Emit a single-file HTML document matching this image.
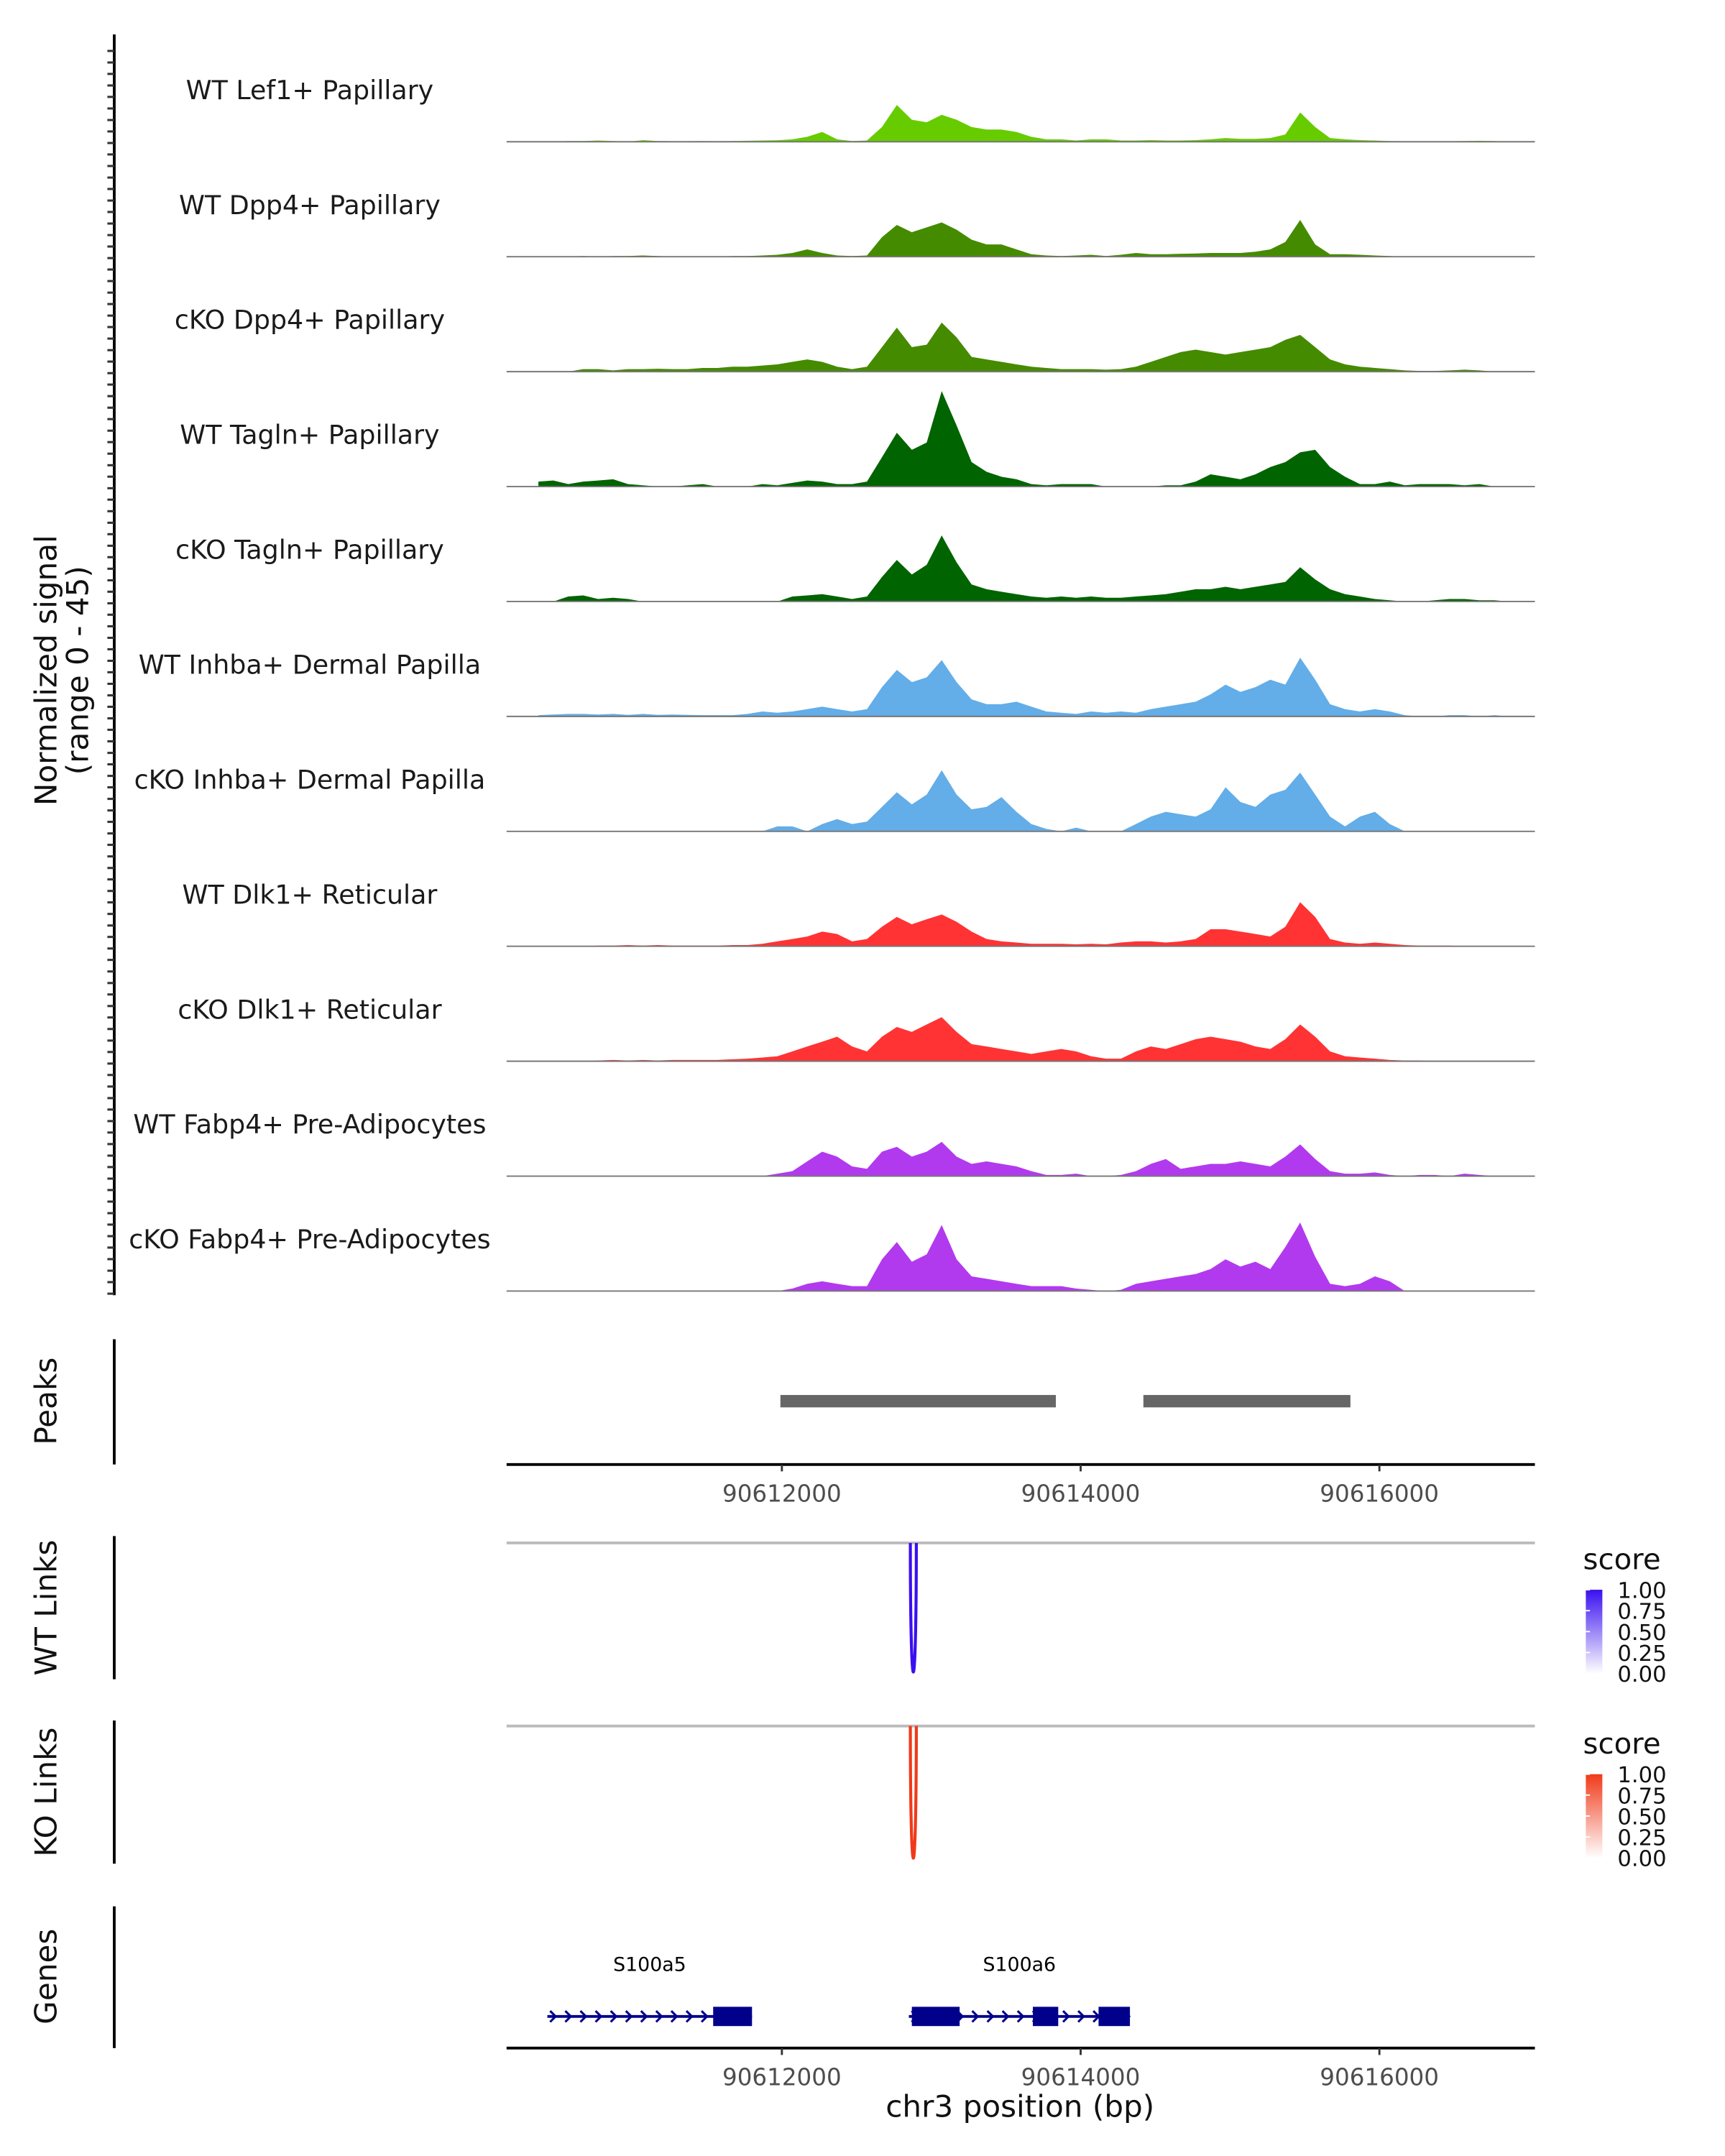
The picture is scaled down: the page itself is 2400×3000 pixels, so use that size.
<!DOCTYPE html>
<html><head><meta charset="utf-8"><style>
html,body{margin:0;padding:0;background:#fff}
svg{display:block}
text{font-family:"DejaVu Sans","Liberation Sans",sans-serif}
</style></head><body>
<svg id="chart" width="2400" height="3000" viewBox="0 0 1253.1 1566.4" preserveAspectRatio="none" xmlns="http://www.w3.org/2000/svg">
<defs>
<linearGradient id="gBlue" x1="0" y1="1" x2="0" y2="0"><stop offset="0" stop-color="#ffffff"/><stop offset="1" stop-color="#3a10f0"/></linearGradient>
<linearGradient id="gRed" x1="0" y1="1" x2="0" y2="0"><stop offset="0" stop-color="#ffffff"/><stop offset="1" stop-color="#f03a1a"/></linearGradient>
</defs>
<g id="tracks"></g>
<line x1="83" y1="25" x2="83" y2="941" stroke="#000" stroke-width="2"/>
<g id="yticks"></g>
<text transform="translate(41,487) rotate(-90)" text-anchor="middle" font-size="22" fill="#111">Normalized signal</text>
<text transform="translate(64,487) rotate(-90)" text-anchor="middle" font-size="22" fill="#111">(range 0 - 45)</text>

<line x1="83" y1="973" x2="83" y2="1064" stroke="#000" stroke-width="2"/>
<text transform="translate(41,1018) rotate(-90)" text-anchor="middle" font-size="22" fill="#111">Peaks</text>
<g id="peaks"></g>
<g id="xaxis1"></g>

<line x1="83" y1="1116" x2="83" y2="1220" stroke="#000" stroke-width="2"/>
<text transform="translate(41,1168) rotate(-90)" text-anchor="middle" font-size="22" fill="#111">WT Links</text>
<line x1="368" y1="1121" x2="1115" y2="1121" stroke="#bbb" stroke-width="2"/>
<path id="wtlink" fill="none" stroke="#3a10f0" stroke-width="2.2"/>
<text x="1150" y="1140" font-size="21" fill="#111">score</text>
<rect x="1152" y="1155" width="12" height="61" fill="url(#gBlue)"/>
<g id="wtleg"></g>

<line x1="83" y1="1250" x2="83" y2="1354" stroke="#000" stroke-width="2"/>
<text transform="translate(41,1302) rotate(-90)" text-anchor="middle" font-size="22" fill="#111">KO Links</text>
<line x1="368" y1="1254" x2="1115" y2="1254" stroke="#bbb" stroke-width="2"/>
<path id="kolink" fill="none" stroke="#f03a1a" stroke-width="2.2"/>
<text x="1150" y="1274" font-size="21" fill="#111">score</text>
<rect x="1152" y="1289" width="12" height="61" fill="url(#gRed)"/>
<g id="koleg"></g>

<line x1="83" y1="1385" x2="83" y2="1488" stroke="#000" stroke-width="2"/>
<text transform="translate(41,1436) rotate(-90)" text-anchor="middle" font-size="22" fill="#111">Genes</text>
<g id="genes"></g>
<g id="xaxis2"></g>
<text x="741" y="1538" text-anchor="middle" font-size="22" fill="#111">chr3 position (bp)</text>
</svg>
<script>
const NS="http://www.w3.org/2000/svg";
const binStart=90610370, binStep=100;
const trackNames=["WT Lef1+ Papillary","WT Dpp4+ Papillary","cKO Dpp4+ Papillary","WT Tagln+ Papillary","cKO Tagln+ Papillary","WT Inhba+ Dermal Papilla","cKO Inhba+ Dermal Papilla","WT Dlk1+ Reticular","cKO Dlk1+ Reticular","WT Fabp4+ Pre-Adipocytes","cKO Fabp4+ Pre-Adipocytes"];
const trackColors=["#66CC00","#458B00","#458B00","#006400","#006400","#63ADE8","#63ADE8","#FF3333","#FF3333","#B23AEE","#B23AEE"];
const sigLef1WT=[0,0,0.3,0.3,0.5,0.3,0,0.7,0.3,0.2,0.2,0.3,0.2,0.3,0.4,0.5,0.6,1,2,4,1,0.3,0.5,6,15,9,8,11,9,6,5,5,4,2,1,1,0.5,1,1,0.5,0.5,0.7,0.5,0.5,0.7,1,1.5,1.2,1.2,1.5,3,12,6,1.5,1,0.7,0.5,0.3,0.2,0.2,0.2,0.2,0.3,0.4,0.3,0,0,0];
const sigDpp4WT=[0,0,0,0.3,0,0.3,0.3,0.5,0.3,0,0,0,0,0.3,0.3,0.5,0.8,1.5,3,1.5,0.5,0.3,0.5,8,13,10,12,14,11,7,5,5,3,1,0.5,0.3,0.5,0.8,0.3,0.8,1.5,1,1,1.2,1.3,1.5,1.5,1.5,2,3,6,15,5,1,1,0.8,0.5,0.3,0,0,0,0,0,0,0,0,0,0];
const sigDpp4KO=[0,0,0,1,1,0.5,1,1,1.2,1,1,1.5,1.5,2,2,2.5,3,4,5,4,2,1,2,10,18,10,11,20,14,6,5,4,3,2,1.5,1,1,1,0.8,1,2,4,6,8,9,8,7,8,9,10,13,15,10,5,3,2,1.5,1,0.5,0.3,0.3,0.5,0.8,0.5,0,0,0,0];
const sigTaglnWT=[2,2.5,1,2,2.5,3,1,0.5,0,0,0.5,1,0,0,0,1,0.5,1.5,2.5,2,1,1,2,12,22,15,18,39,25,10,6,4,3,1,0.5,1,1,1,0,0,0,0,0.5,0.5,2,5,4,3,5,8,10,14,15,8,4,1,1,2,0.5,1,1,1,0.5,1,0,0,0,0];
const sigTaglnKO=[0,0,2,2.5,1,1.5,1,0,0,0,0,0,0,0,0,0,0,2,2.5,3,2,1,2,10,17,11,15,27,16,7,5,4,3,2,1.5,2,1.5,2,1.5,1.5,2,2.5,3,4,5,5,6,5,6,7,8,14,9,5,3,2,1,0.5,0,0,0.5,1,1,0.5,0.5,0,0,0];
const sigInhbaWT=[0.5,0.8,1,1,0.8,1,0.6,1,0.6,0.8,0.6,0.5,0.5,0.5,1,2,1.5,2,3,4,3,2,3,12,19,14,16,23,14,7,5,5,6,4,2,1.5,1,2,1.5,2,1.5,3,4,5,6,9,13,10,12,15,13,24,15,5,3,2,3,2,0.5,0,0,0.5,0.5,0,0.5,0,0,0];
const sigInhbaKO=[0,0,0,0,0,0,0,0,0,0,0,0,0,0,0,0,2,2,0,3,5,3,4,10,16,11,15,25,15,9,10,14,8,3,1,0,1.5,0,0,0,3,6,8,7,6,9,18,12,10,15,17,24,15,6,2,6,8,3,0,0,0,0,0,0,0,0,0,0];
const sigDlk1WT=[0,0,0,0,0.3,0.3,0.5,0.3,0.5,0.3,0.3,0.3,0.3,0.5,0.5,1,2,3,4,6,5,2,3,8,12,9,11,13,10,6,3,2,1.5,1,1,1,0.8,1,0.8,1.5,2,2,1.5,2,3,7,7,6,5,4,8,18,12,3,1.5,1,1.5,1,0.5,0.3,0.3,0.3,0,0,0,0,0,0];
const sigDlk1KO=[0,0,0,0,0.3,0.5,0.3,0.5,0.3,0.5,0.5,0.5,0.5,0.8,1,1.5,2,4,6,8,10,6,4,10,14,12,15,18,12,7,6,5,4,3,4,5,4,2,1,1,4,6,5,7,9,10,9,8,6,5,9,15,10,4,2,1.5,1,0.5,0.3,0.3,0,0,0,0,0,0,0,0];
const sigFabp4WT=[0,0,0,0,0,0,0,0,0,0,0,0,0,0,0,0,1,2,6,10,8,4,3,10,12,8,10,14,8,5,6,5,4,2,0.5,0.5,1,0,0,0.5,2,5,7,3,4,5,5,6,5,4,8,13,7,2,1,1,1.5,0.5,0,0.5,0.5,0,1,0.5,0,0,0,0];
const sigFabp4KO=[0,0,0,0,0,0,0,0,0,0,0,0,0,0,0,0,0,1,3,4,3,2,2,13,20,12,15,27,13,6,5,4,3,2,2,2,1,0.5,0,0.5,3,4,5,6,7,9,13,10,12,9,18,28,14,3,2,3,6,4,0,0,0,0,0,0,0,0,0,0];
const signals=[sigLef1WT,sigDpp4WT,sigDpp4KO,sigTaglnWT,sigTaglnKO,sigInhbaWT,sigInhbaKO,sigDlk1WT,sigDlk1KO,sigFabp4WT,sigFabp4KO];
const peakStarts=[90611990,90614420];
const peakEnds=[90613834,90615806];
const xTicks=[90612000,90614000,90616000];
const legendTicks=["1.00","0.75","0.50","0.25","0.00"];
const wtLink=[90612860,90612900];
const koLink=[90612860,90612900];
const geneNames=["S100a5","S100a6"];
const geneStarts=[90610430,90612850];
const geneEnds=[90611800,90614330];
const exonStarts=[90611540,90612870,90613680,90614120];
const exonEnds=[90611800,90613190,90613850,90614330];
const yMax=45;

const X0=368,X1=1115,BP0=90610157,BP1=90617041;
function xs(bp){return X0+(bp-BP0)*(X1-X0)/(BP1-BP0);}
function mk(tag,attrs,parent){const e=document.createElementNS(NS,tag);for(const k in attrs)e.setAttribute(k,attrs[k]);parent.appendChild(e);return e;}

const tg=document.getElementById('tracks');
const base0=103, spacing=83.5, th=80;
signals.forEach((s,t)=>{
  const b=base0+t*spacing;
  const ys=v=>b-v/yMax*th;
  let d=`M${xs(binStart).toFixed(1)},${b}`;
  s.forEach((v,i)=>{d+=` L${xs(binStart+i*binStep).toFixed(1)},${ys(v).toFixed(1)}`;});
  d+=` L${xs(binStart+(s.length-1)*binStep).toFixed(1)},${b} Z`;
  const p=mk('path',{d:d,fill:trackColors[t]},tg);
  
  
  const l=mk('line',{x1:X0,x2:X1,y1:b,y2:b,stroke:'#777','stroke-width':1},tg);
  
  
  const tx=mk('text',{x:225,y:b-31,'text-anchor':'middle','font-size':19,fill:'#1a1a1a'},tg);
  tx.textContent=trackNames[t];
  
  
});
const yt=document.getElementById('yticks');
for(let y=37;y<=940;y+=8.36){
  const l=mk('line',{x1:78,x2:83,y1:y.toFixed(1),y2:y.toFixed(1),stroke:'#333','stroke-width':1.6},yt);
  
  
}
const pg=document.getElementById('peaks');
peakStarts.forEach((s,i)=>{
  const r=mk('rect',{x:xs(s),y:1013.5,width:xs(peakEnds[i])-xs(s),height:9,fill:'#666'},pg);
  
  
});
function xaxis(id,y){
  const g=document.getElementById(id);
  const a=mk('line',{x1:X0,x2:X1,y1:y,y2:y,stroke:'#000','stroke-width':2},g);
  
  
  xTicks.forEach(v=>{
    const t=mk('line',{x1:xs(v),x2:xs(v),y1:y,y2:y+5,stroke:'#333','stroke-width':1.5},g);
    
    
    const tx=mk('text',{x:xs(v),y:y+27,'text-anchor':'middle','font-size':17,fill:'#4d4d4d'},g);
    tx.textContent=v;
    
    
  });
}
xaxis('xaxis1',1064);xaxis('xaxis2',1488);
function arc(id,pair,y0,y1){
  const a=xs(pair[0]),b=xs(pair[1]);
  document.getElementById(id).setAttribute('d',`M${a},${y0} C${a},${y1} ${b},${y1} ${b},${y0}`);
}
arc('wtlink',wtLink,1121,1246);arc('kolink',koLink,1254,1382);
function leg(id,top){
  const g=document.getElementById(id);
  legendTicks.forEach((s,i)=>{
    const y=top+i*15.2;
    const tx=mk('text',{x:1175,y:y+6,'font-size':16,fill:'#111'},g);
    tx.textContent=s;
    
    
    const l=mk('line',{x1:1152,x2:1155,y1:y,y2:y,stroke:'#fff'},g);
    
    
  });
}
leg('wtleg',1155);leg('koleg',1289);
const gg=document.getElementById('genes');
const gy=1465;
geneStarts.forEach((s,i)=>{
  const l=mk('line',{x1:xs(s),x2:xs(geneEnds[i]),y1:gy,y2:gy,stroke:'#00008B','stroke-width':2},gg);
  
  
  for(let x=xs(s)+2;x<xs(geneEnds[i])-4;x+=11){
    const c=mk('path',{d:`M${x},${gy-4} L${x+4},${gy} L${x},${gy+4}`,fill:'none',stroke:'#00008B','stroke-width':1.6},gg);
    
    
  }
  const tx=mk('text',{x:(xs(s)+xs(geneEnds[i]))/2,y:1432,'text-anchor':'middle','font-size':14,fill:'#000'},gg);
  tx.textContent=geneNames[i];
  
  
});
exonStarts.forEach((s,i)=>{
  const r=mk('rect',{x:xs(s),y:gy-7,width:xs(exonEnds[i])-xs(s),height:14,fill:'#00008B'},gg);
  
  
});
</script>
</body></html>
